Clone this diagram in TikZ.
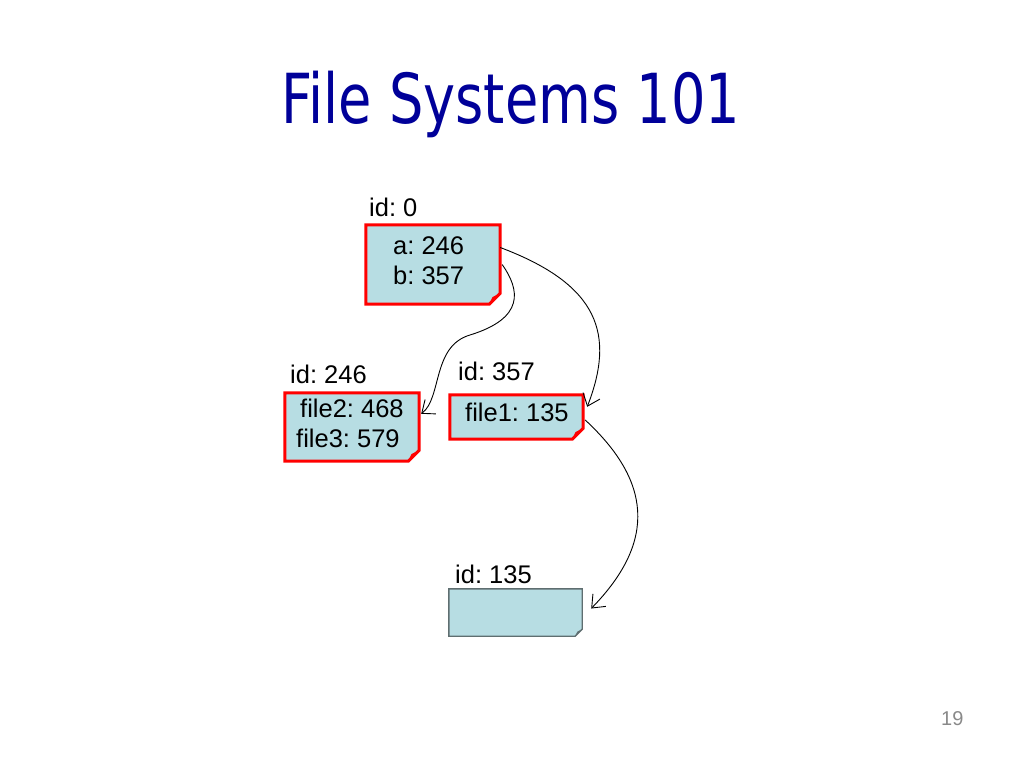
\documentclass[tikz,border=0pt]{standalone}
\usepackage{fontspec}
\setmainfont{Liberation Sans}
\newfontfamily\titlefont{DejaVu Sans}
\usetikzlibrary{arrows.meta}
\definecolor{titleblue}{RGB}{0,0,153}
\definecolor{boxfill}{RGB}{183,221,227}
\definecolor{boxred}{RGB}{255,0,0}
\definecolor{boxgray}{RGB}{95,110,112}
\definecolor{foldgray}{RGB}{95,110,112}
\definecolor{pagegray}{RGB}{137,137,137}
\tikzset{
  box/.style={draw=none,inner sep=0pt,minimum width=#1},
  txt/.style={font=\fontsize{25.5}{29}\selectfont,inner sep=0pt,anchor=base west},
  link/.style={draw=black,line width=0.9pt,-{Straight Barb[length=11pt,width=18pt,line width=0.9pt]}},
}
\newcommand\foldbox[5]{%
  \draw[fill=boxfill,draw=#3,line width=#4,line join=miter]
    (#1.north west) -- (#1.north east) -- ([yshift=#2]#1.south east)
    -- ([xshift=-#2]#1.south east) -- (#1.south west) -- cycle;
  \fill[#5] ([xshift=-#2]#1.south east) -- ([yshift=#2]#1.south east)
    -- ([xshift=-0.7*#2,yshift=0.65*#2]#1.south east) -- cycle;
}
\begin{document}
\frenchspacing
\begin{tikzpicture}[x=1pt,y=-1pt]
\useasboundingbox (0,0) rectangle (1024,768);
% title
\node[anchor=base west,inner sep=0pt,text=titleblue] (title) at (281,123)
  {\resizebox{459pt}{\height}{\titlefont\fontsize{69}{80}\selectfont File Systems 101}};
% boxes
\node[box=134pt,minimum height=79pt] (b0) at (433,264.5) {};
\node[box=134pt,minimum height=68pt] (b246) at (352,427) {};
\node[box=133pt,minimum height=44pt] (b357) at (516.5,417) {};
\node[box=133pt,minimum height=47pt] (b135) at (515.5,612.5) {};
\foldbox{b0}{11pt}{boxred}{3pt}{boxred}
\foldbox{b246}{11pt}{boxred}{3pt}{boxred}
\foldbox{b357}{11pt}{boxred}{3pt}{boxred}
\foldbox{b135}{7pt}{boxgray}{1.4pt}{foldgray}
% labels
\node[txt] (l0) at (369,216) {id: 0};
\node[txt] (l246) at (290,383) {id: 246};
\node[txt] (l357) at (458,380) {id: 357};
\node[txt] (l135) at (455,583) {id: 135};
% contents
\node[txt] (ta) at (393,254) {a: 246};
\node[txt] (tb) at (393,284) {b: 357};
\node[txt] (tf2) at (300,417) {file2: 468};
\node[txt] (tf3) at (296,447) {file3: 579};
\node[txt] (tf1) at (465,421) {file1: 135};
% connectors
\coordinate (s1) at ([yshift=17pt]b0.east);
\coordinate (e1) at ([xshift=4pt,yshift=-12pt]b357.north east);
\draw[link] (s1) .. controls (600,285) and (615,335) .. (e1);
\coordinate (s2) at ([xshift=2pt,yshift=0pt]b0.east);
\coordinate (e2) at ([xshift=2pt,yshift=-21pt]b246.north east);
\draw[link] (s2) .. controls (520,290) and (525,318) .. (470,335)
  .. controls (432,346) and (442,398) .. (e2);
\coordinate (s3) at ([xshift=2pt,yshift=-3pt]b357.east);
\coordinate (e3) at ([xshift=9pt,yshift=4pt]b135.east);
\draw[link] (s3) .. controls (650,480) and (658,540) .. (e3);
% page number
\node[anchor=base west,inner sep=0pt,text=pagegray,font=\fontsize{20}{24}\selectfont] (pg) at (941,725) {19};
\end{tikzpicture}
\end{document}
